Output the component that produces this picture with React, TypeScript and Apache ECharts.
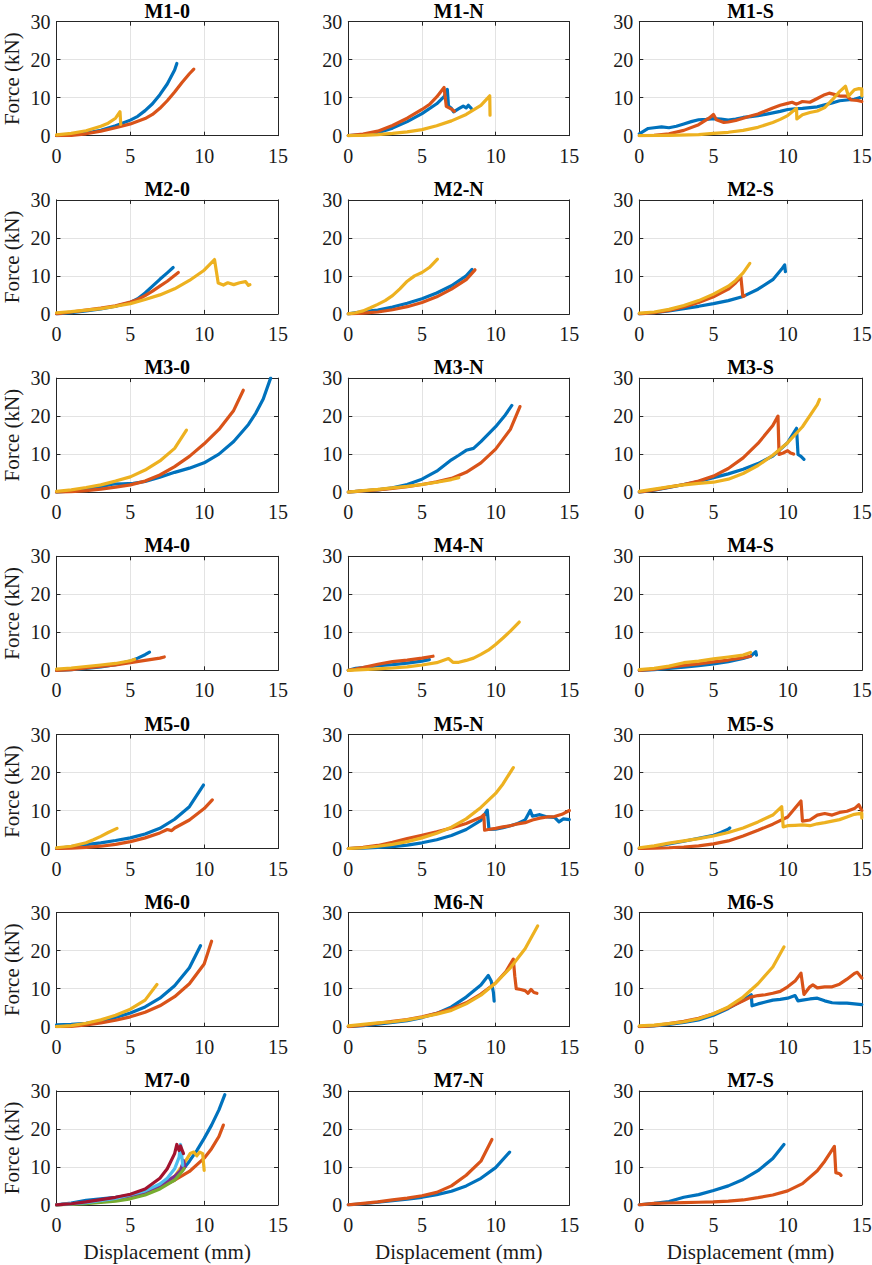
import React, { useEffect, useRef } from "react";
import * as echarts from "echarts";

type Pt = [number, number];

// ---- Data (displacement mm, force kN) ----
const M1_0_blue: Pt[] = [[0,0],[1,0.3],[2,0.7],[3,1.4],[4,2.6],[5,4.1],[5.5,5.1],[6,6.6],[6.5,8.4],[7,10.8],[7.5,13.6],[8,17.3],[8.15,19]];
const M1_0_orange: Pt[] = [[0,0],[1,0.1],[2,0.5],[3,1.2],[4,2.1],[5,3.1],[6,4.5],[6.5,5.6],[7,7.2],[7.5,9.2],[8,11.5],[8.5,14],[9,16.3],[9.3,17.5]];
const M1_0_yellow: Pt[] = [[0,0.2],[1,0.6],[2,1.3],[3,2.5],[3.5,3.3],[4,4.6],[4.3,6.3],[4.35,3.0]];

const M1_N_blue: Pt[] = [[0,0],[1,0.2],[2,0.8],[3,2.0],[4,3.7],[5,5.8],[6,8.4],[6.5,10.3],[6.72,12.2],[6.8,7.8],[7.0,7.2],[7.15,6.3],[7.5,7.1],[7.8,7.8],[8.0,7.3],[8.15,8.0],[8.35,7.2]];
const M1_N_orange: Pt[] = [[0,0],[1,0.4],[2,1.2],[3,2.7],[4,4.6],[5,6.9],[5.5,8.2],[6,10.2],[6.5,12.7],[6.65,7.7],[7.0,7.0],[7.2,6.4]];
const M1_N_yellow: Pt[] = [[0,0],[1,0.1],[2,0.3],[3,0.6],[4,1.0],[5,1.6],[6,2.6],[7,3.9],[8,5.6],[9,8.0],[9.6,10.5],[9.62,5.4]];

const M1_S_blue: Pt[] = [[0,0.5],[0.3,1.2],[0.6,1.9],[1,2.1],[1.5,2.3],[2,2.1],[2.5,2.5],[3,3.1],[3.5,3.7],[4,4.2],[4.5,4.3],[5,4.5],[5.5,4.4],[6,4.1],[6.5,4.4],[7,4.8],[7.5,5.0],[8,5.3],[8.5,5.6],[9,6.0],[9.5,6.4],[10,6.9],[10.5,7.1],[11,7.2],[11.5,7.4],[12,7.6],[12.5,8.1],[13,8.6],[13.5,9.2],[14,9.4],[14.5,9.6],[15,10.2]];
const M1_S_orange: Pt[] = [[0,0],[1,0.1],[2,0.5],[3,1.4],[4,2.9],[4.7,4.6],[5.0,5.6],[5.2,4.2],[5.7,3.5],[6,3.6],[6.5,4],[7,4.6],[7.5,5.2],[8,5.7],[8.5,6.5],[9,7.3],[9.5,8],[10,8.5],[10.3,8.8],[10.6,8.3],[11,9],[11.5,8.8],[12,9.8],[12.5,10.8],[12.8,11.2],[13.2,10.8],[13.6,10.4],[14,10.4],[14.3,9.4],[14.7,9.3],[15,9]];
const M1_S_yellow: Pt[] = [[0,0],[2,0.1],[4,0.3],[5,0.6],[6,0.9],[7,1.4],[8,2.2],[9,3.5],[9.5,4.3],[10,5.3],[10.6,7.2],[10.62,4.4],[11,5.5],[11.5,6.1],[12,6.5],[12.5,7.4],[13,9.4],[13.5,11.6],[13.9,13],[14.1,10.4],[14.5,12.1],[14.8,12.4],[15,12.3],[15,10.5]];

const M2_0_blue: Pt[] = [[0,0],[1,0.3],[2,0.8],[3,1.3],[4,2],[5,3],[5.5,4],[6,5.5],[6.5,7.3],[7,9.1],[7.5,10.8],[7.9,12.2]];
const M2_0_orange: Pt[] = [[0,0],[1,0.5],[2,1],[3,1.5],[4,2.1],[5,3.1],[5.5,3.8],[6,4.8],[6.5,6],[7,7.3],[7.5,8.6],[8.25,10.9]];
const M2_0_yellow: Pt[] = [[0,0.3],[1,0.6],[2,1],[3,1.4],[4,2],[5,2.7],[6,3.8],[7,5],[8,6.6],[9,8.8],[10,11.5],[10.7,14.3],[10.95,8.1],[11.3,7.6],[11.6,8.2],[12,7.7],[12.4,8.2],[12.8,8.5],[13.0,7.5],[13.1,7.7]];

const M2_N_blue: Pt[] = [[0,0],[1,0.6],[2,1],[3,1.8],[4,2.8],[5,4],[6,5.5],[7,7.4],[8,10],[8.4,11.7]];
const M2_N_orange: Pt[] = [[0,0],[1,0.2],[2,0.5],[3,1.1],[4,1.9],[5,3],[6,4.5],[7,6.5],[8,9],[8.6,11.6]];
const M2_N_yellow: Pt[] = [[0,0],[0.5,0.3],[1,0.8],[1.5,1.6],[2,2.5],[2.5,3.5],[3,4.8],[3.5,6.6],[4,8.6],[4.5,10],[5,10.9],[5.5,12.2],[6.05,14.4]];

const M2_S_blue: Pt[] = [[0,0],[1,0.3],[2,0.8],[3,1.4],[4,2],[5,2.7],[6,3.5],[7,4.6],[8,6.5],[9,9],[9.6,11.8],[9.8,12.9],[9.85,11.1]];
const M2_S_orange: Pt[] = [[0,0],[1,0.3],[2,0.9],[3,1.8],[4,3],[5,4.5],[6,6.5],[6.5,8.2],[6.85,9.7],[6.98,4.6],[7.1,4.8]];
const M2_S_yellow: Pt[] = [[0,0.2],[1,0.5],[2,1.2],[3,2.2],[4,3.5],[5,5.2],[6,7.3],[6.5,8.8],[7,10.8],[7.45,13.3]];

const M3_0_blue: Pt[] = [[0,0],[1,0.3],[2,0.8],[3,1.4],[3.8,2.1],[4.5,2.2],[5.2,2.3],[6,2.8],[7,3.9],[8,5.2],[9,6.3],[10,7.7],[11,10],[12,13.3],[13,17.8],[13.5,20.8],[14,24.5],[14.5,30]];
const M3_0_orange: Pt[] = [[0,0],[1,0.1],[2,0.4],[3,0.8],[4,1.3],[5,1.9],[6,2.9],[7,4.5],[8,6.7],[9,9.4],[10,12.7],[11,16.5],[12,21.5],[12.65,26.8]];
const M3_0_yellow: Pt[] = [[0,0.2],[1,0.6],[2,1.2],[3,1.9],[4,2.9],[5,4],[6,5.8],[7,8.2],[8,11.5],[8.8,16.3]];

const M3_N_blue: Pt[] = [[0,0],[1,0.3],[2,0.6],[3,1.1],[4,2],[5,3.4],[6,5.5],[7,8.5],[7.5,9.7],[8,11],[8.5,11.5],[9,13.3],[10,17.2],[10.6,20],[11.1,22.8]];
const M3_N_orange: Pt[] = [[0,0],[1,0.3],[2,0.6],[3,1],[4,1.4],[5,2],[6,2.7],[7,3.6],[8,5.2],[9,7.7],[10,11.3],[11,16.5],[11.65,22.5]];
const M3_N_yellow: Pt[] = [[0,0],[1,0.4],[2,0.7],[3,1.1],[4,1.5],[5,2],[6,2.6],[7,3.3],[7.5,3.8]];

const M3_S_blue: Pt[] = [[0,0],[1,0.5],[2,1.2],[3,2],[4,2.8],[5,3.8],[6,4.8],[7,6],[8,7.5],[9,9.5],[10,13],[10.6,16.8],[10.7,9.9],[10.9,9.4],[11.1,8.6]];
const M3_S_orange: Pt[] = [[0,0],[1,0.6],[2,1.3],[3,2],[4,2.9],[5,4.2],[6,6.2],[7,9],[8,12.8],[9,17.5],[9.35,20],[9.42,9.9],[9.7,10.3],[10,10.9],[10.2,10.3],[10.4,10]];
const M3_S_yellow: Pt[] = [[0,0.2],[1,0.8],[2,1.4],[3,1.9],[4,2.3],[5,2.6],[6,3.4],[7,4.9],[8,7],[9,9.7],[10,13],[11,17.2],[12,23],[12.15,24.4]];

const M4_0_blue: Pt[] = [[0,0],[1,0.2],[2,0.5],[3,0.9],[4,1.5],[5,2.4],[5.5,3.2],[6,4.1],[6.3,4.8]];
const M4_0_orange: Pt[] = [[0,0],[1,0.2],[2,0.6],[3,1],[4,1.4],[5,2],[6,2.6],[7,3.2],[7.3,3.5]];
const M4_0_yellow: Pt[] = [[0,0.3],[1,0.6],[2,1],[3,1.4],[4,1.8],[5,2.5],[5.3,2.9]];

const M4_N_blue: Pt[] = [[0,0],[0.5,0.5],[1,0.7],[2,1.2],[3,1.5],[4,1.9],[5,2.4],[5.5,2.8]];
const M4_N_orange: Pt[] = [[0,0],[0.5,0.3],[1,0.7],[2,1.6],[3,2.3],[4,2.7],[5,3.2],[5.75,3.7]];
const M4_N_yellow: Pt[] = [[0,0],[1,0.2],[2,0.4],[3,0.6],[4,0.9],[5,1.4],[6,2],[6.8,3.1],[7.1,2.1],[7.5,2.1],[8,2.6],[8.5,3.2],[9,4.2],[9.5,5.3],[10,6.8],[10.5,8.5],[11,10.3],[11.6,12.7]];

const M4_S_blue: Pt[] = [[0,0],[1,0.2],[2,0.5],[3,0.8],[4,1.2],[5,1.7],[6,2.3],[7,3.1],[7.5,3.7],[7.85,4.9],[7.9,4.0]];
const M4_S_orange: Pt[] = [[0,0],[1,0.3],[2,0.8],[3,1.3],[4,1.7],[5,2.2],[6,2.7],[7,3.3],[7.5,3.7]];
const M4_S_yellow: Pt[] = [[0,0.2],[1,0.5],[2,1.1],[3,2],[4,2.4],[5,3],[6,3.5],[7,4],[7.5,4.7]];

const M5_0_blue: Pt[] = [[0,0],[1,0.5],[2,1],[3,1.5],[4,2.1],[5,2.8],[6,3.8],[7,5.3],[8,7.7],[9,11],[9.95,16.7]];
const M5_0_orange: Pt[] = [[0,0],[1,0.1],[2,0.3],[3,0.6],[4,1.1],[5,1.8],[6,2.8],[7,4.1],[7.5,5],[7.8,4.7],[8,5.4],[9,7.5],[10,10.5],[10.55,12.8]];
const M5_0_yellow: Pt[] = [[0,0.2],[1,0.6],[2,1.5],[2.5,2.3],[3,3.2],[3.5,4.2],[4.1,5.3]];

const M5_N_blue: Pt[] = [[0,0],[1,0.1],[2,0.3],[3,0.5],[4,0.9],[5,1.5],[6,2.3],[7,3.4],[8,5],[9,7.4],[9.43,10.1],[9.55,5],[10,5.1],[10.5,5.5],[11,6],[11.5,6.6],[12,7.5],[12.35,10],[12.5,8.5],[13,8.9],[13.5,8.3],[14,8.2],[14.3,7],[14.6,7.8],[15,7.6]];
const M5_N_orange: Pt[] = [[0,0],[1,0.3],[2,0.8],[3,1.6],[4,2.6],[5,3.5],[6,4.4],[7,5.4],[8,6.6],[9,8.2],[9.2,8.9],[9.25,4.8],[9.5,5],[10,5.3],[10.5,5.7],[11,6],[11.5,6.5],[12,6.8],[12.5,7.5],[13,8],[13.5,8.3],[14,8.4],[14.5,9],[15,10]];
const M5_N_yellow: Pt[] = [[0,0],[1,0.2],[2,0.6],[3,1.1],[4,1.8],[5,2.8],[6,4],[7,5.6],[8,7.8],[9,10.8],[10,14.5],[10.5,17],[11.2,21.3]];

const M5_S_blue: Pt[] = [[0,0],[1,0.5],[2,1.2],[3,1.9],[4,2.7],[5,3.5],[5.5,4.2],[6,5.1],[6.1,5.4]];
const M5_S_orange: Pt[] = [[0,0],[1,0.1],[2,0.2],[3,0.4],[4,0.7],[5,1.2],[6,2],[7,3.3],[8,4.8],[9,6.4],[10,8.3],[10.9,12.5],[11,7.2],[11.5,7.5],[12,8.8],[12.5,9.2],[13,8.8],[13.5,9.5],[14,9.8],[14.5,10.5],[14.8,11.5],[15,10]];
const M5_S_yellow: Pt[] = [[0,0.2],[1,0.7],[2,1.4],[3,2],[4,2.6],[5,3.3],[6,4.2],[7,5.4],[8,7],[9,8.8],[9.6,11],[9.7,5.7],[10,6],[10.5,6.1],[11,6.2],[11.5,6],[12,6.5],[12.5,6.8],[13,7.2],[13.5,7.6],[14,8.3],[14.5,9],[15,9.3],[15,8]];

const M6_0_blue: Pt[] = [[0,0.5],[1,0.6],[2,0.9],[3,1.5],[4,2.4],[5,3.6],[6,5.2],[7,7.5],[8,10.8],[9,15.5],[9.75,21.3]];
const M6_0_orange: Pt[] = [[0,0],[1,0.1],[2,0.5],[3,1],[4,1.7],[5,2.6],[6,3.8],[7,5.5],[8,7.9],[9,11.3],[10,16.5],[10.5,22.5]];
const M6_0_yellow: Pt[] = [[0,0],[1,0.3],[2,0.9],[3,1.8],[4,3],[5,4.6],[6,7],[6.8,11.1]];

const M6_N_blue: Pt[] = [[0,0],[1,0.3],[2,0.7],[3,1.1],[4,1.6],[5,2.4],[6,3.5],[7,5.2],[8,7.8],[9,11],[9.5,13.5],[9.7,12],[9.85,9],[9.9,6.7]];
const M6_N_orange: Pt[] = [[0,0],[1,0.4],[2,0.9],[3,1.4],[4,1.9],[5,2.6],[6,3.5],[7,4.7],[8,6.3],[9,8.6],[10,11.5],[10.7,14.5],[11.2,17.8],[11.3,13.3],[11.4,10],[11.7,9.8],[12,9.5],[12.2,8.8],[12.4,9.8],[12.6,9],[12.8,8.8]];
const M6_N_yellow: Pt[] = [[0,0.2],[1,0.6],[2,1],[3,1.3],[4,1.8],[5,2.5],[6,3.3],[7,4.3],[8,6],[9,8.3],[10,11.5],[11,15.5],[12,20.5],[12.85,26.5]];

const M6_S_blue: Pt[] = [[0,0],[1,0.2],[2,0.6],[3,1.1],[4,1.8],[5,3],[6,4.8],[7,7],[7.55,8.4],[7.6,5.5],[8,6],[8.5,6.5],[9,7],[9.5,7.2],[10,7.5],[10.5,8.2],[10.7,6.8],[11,7],[11.5,7.3],[12,7.5],[12.5,6.8],[13,6.3],[13.5,6.2],[14,6.2],[14.5,6],[15,5.8]];
const M6_S_orange: Pt[] = [[0,0],[1,0.3],[2,0.8],[3,1.4],[4,2.2],[5,3.4],[6,5],[7,6.8],[7.5,7.8],[8,8.2],[8.5,8.4],[9,8.8],[9.5,9.3],[10,10.5],[10.5,12],[10.9,14.1],[11.1,8.5],[11.5,10.5],[11.7,11],[12,10.2],[12.5,10.5],[13,10.5],[13.5,11.2],[14,12.5],[14.5,14],[14.7,14.3],[15,12.8]];
const M6_S_yellow: Pt[] = [[0,0.2],[1,0.4],[2,0.8],[3,1.3],[4,2.1],[5,3.4],[6,5.2],[7,7.8],[8,11.3],[9,15.7],[9.75,21]];

const M7_0_blue: Pt[] = [[0,0],[1,0.5],[2,1.2],[3,1.6],[4,2],[5,2.6],[6,3.4],[7,4.7],[8,6.8],[8.5,9],[9,11.5],[9.5,14.3],[10,17.5],[10.5,21],[11,25],[11.4,29]];
const M7_0_orange: Pt[] = [[0,0],[1,0.3],[2,0.7],[3,1.2],[4,1.8],[5,2.5],[6,3.5],[7,4.8],[8,6.5],[9,8.8],[10,12.3],[10.5,14.8],[11,18],[11.3,21]];
const M7_0_yellow: Pt[] = [[0,0],[2,0.5],[4,1.5],[6,3.3],[7,4.8],[8,7.5],[8.7,11.3],[9.05,13.5],[9.3,13.9],[9.5,12.9],[9.7,13.9],[9.9,13.5],[10,9.1]];
const M7_0_purple: Pt[] = [[0,0],[2,0.5],[4,1.5],[6,3.3],[7,5],[8,7.5],[8.4,9],[8.6,11.7],[8.7,10]];
const M7_0_green: Pt[] = [[0,0],[2,0.3],[4,1],[5,1.6],[6,2.6],[7,4.2],[8,6.5],[8.5,8.8],[8.65,9.6]];
const M7_0_cyan: Pt[] = [[0,0],[2,0.6],[4,1.7],[6,3.7],[7,5.5],[7.5,7],[8,9.5],[8.3,12.5],[8.4,15.9],[8.55,10.4]];
const M7_0_red: Pt[] = [[0,0],[1,0.3],[2,0.8],[3,1.4],[4,2],[5,2.8],[6,4.2],[7,7],[7.5,9.5],[8,13.5],[8.15,15.9],[8.3,14.3],[8.4,15.5],[8.5,14.5],[8.6,13.5]];

const M7_N_blue: Pt[] = [[0,0],[1,0.3],[2,0.7],[3,1.1],[4,1.5],[5,2],[6,2.7],[7,3.6],[8,5],[9,7],[10,9.8],[10.95,13.9]];
const M7_N_orange: Pt[] = [[0,0],[1,0.4],[2,0.8],[3,1.3],[4,1.8],[5,2.4],[6,3.3],[7,5],[8,7.8],[9,11.5],[9.75,17.2]];

const M7_S_blue: Pt[] = [[0,0],[1,0.4],[2,0.9],[3,2],[4,2.7],[5,3.8],[6,5],[7,6.7],[8,9],[9,12.2],[9.75,15.9]];
const M7_S_orange: Pt[] = [[0,0],[1,0.4],[2,0.5],[3,0.6],[4,0.7],[5,0.8],[6,1],[7,1.3],[8,1.9],[9,2.6],[10,3.7],[11,5.6],[12,9],[12.5,11.5],[13,14.5],[13.15,15.4],[13.25,8.5],[13.5,8.2],[13.6,7.8]];

const TITLES = ["M1-0","M1-N","M1-S","M2-0","M2-N","M2-S","M3-0","M3-N","M3-S","M4-0","M4-N","M4-S","M5-0","M5-N","M5-S","M6-0","M6-N","M6-S","M7-0","M7-N","M7-S"];
const X_TICKS = [0, 5, 10, 15];
const Y_TICKS = [0, 10, 20, 30];
const X_LABEL = "Displacement (mm)";
const Y_LABEL = "Force (kN)";

const COLORS: Record<string, string> = {
  blue: "#0072BD",
  orange: "#D95319",
  yellow: "#EDB120",
  purple: "#7E2F8E",
  green: "#77AC30",
  cyan: "#4DBEEE",
  red: "#A2142F",
};

const PANEL_SERIES: [string, Pt[]][][] = [
  [["blue", M1_0_blue], ["orange", M1_0_orange], ["yellow", M1_0_yellow]],
  [["blue", M1_N_blue], ["orange", M1_N_orange], ["yellow", M1_N_yellow]],
  [["blue", M1_S_blue], ["orange", M1_S_orange], ["yellow", M1_S_yellow]],
  [["blue", M2_0_blue], ["orange", M2_0_orange], ["yellow", M2_0_yellow]],
  [["blue", M2_N_blue], ["orange", M2_N_orange], ["yellow", M2_N_yellow]],
  [["blue", M2_S_blue], ["orange", M2_S_orange], ["yellow", M2_S_yellow]],
  [["blue", M3_0_blue], ["orange", M3_0_orange], ["yellow", M3_0_yellow]],
  [["blue", M3_N_blue], ["orange", M3_N_orange], ["yellow", M3_N_yellow]],
  [["blue", M3_S_blue], ["orange", M3_S_orange], ["yellow", M3_S_yellow]],
  [["blue", M4_0_blue], ["orange", M4_0_orange], ["yellow", M4_0_yellow]],
  [["blue", M4_N_blue], ["orange", M4_N_orange], ["yellow", M4_N_yellow]],
  [["blue", M4_S_blue], ["orange", M4_S_orange], ["yellow", M4_S_yellow]],
  [["blue", M5_0_blue], ["orange", M5_0_orange], ["yellow", M5_0_yellow]],
  [["blue", M5_N_blue], ["orange", M5_N_orange], ["yellow", M5_N_yellow]],
  [["blue", M5_S_blue], ["orange", M5_S_orange], ["yellow", M5_S_yellow]],
  [["blue", M6_0_blue], ["orange", M6_0_orange], ["yellow", M6_0_yellow]],
  [["blue", M6_N_blue], ["orange", M6_N_orange], ["yellow", M6_N_yellow]],
  [["blue", M6_S_blue], ["orange", M6_S_orange], ["yellow", M6_S_yellow]],
  [["blue", M7_0_blue], ["orange", M7_0_orange], ["yellow", M7_0_yellow], ["purple", M7_0_purple], ["green", M7_0_green], ["cyan", M7_0_cyan], ["red", M7_0_red]],
  [["blue", M7_N_blue], ["orange", M7_N_orange]],
  [["blue", M7_S_blue], ["orange", M7_S_orange]],
];

// ---- Layout ----
const W = 872;
const H = 1265;
const COL_LEFT = [56.5, 348.3, 639.3];
const COL_WIDTH = [221.5, 221, 222.5];
const ROW_TOP0 = 21.7;
const ROW_STEP = 178.2;
const PLOT_H = 114;
const FONT_FAMILY = "Liberation Serif, Times New Roman, serif";
const AX = "#262626";
const GRID = "#e3e3e3";

function buildOption() {
  const grid: any[] = [];
  const xAxis: any[] = [];
  const yAxis: any[] = [];
  const series: any[] = [];
  const graphic: any[] = [];

  TITLES.forEach((title, i) => {
    const row = Math.floor(i / 3);
    const col = i % 3;
    const left = COL_LEFT[col];
    const width = COL_WIDTH[col];
    const top = ROW_TOP0 + ROW_STEP * row;
    grid.push({ left, top, width, height: PLOT_H, containLabel: false, outerBoundsMode: "none", show: false });

    const gx = i;
    xAxis.push({
      type: "value", gridIndex: gx, position: "bottom", min: 0, max: 15, interval: 5,
      axisLine: { show: true, onZero: false, lineStyle: { color: AX, width: 1 } },
      axisTick: { show: true, inside: true, length: 4, lineStyle: { color: AX } },
      axisLabel: { show: true, color: "#1a1a1a", fontFamily: FONT_FAMILY, fontSize: 20, margin: 10,
        formatter: (v: number) => (X_TICKS.includes(v) ? String(v) : "") },
      splitLine: { show: true, lineStyle: { color: GRID, width: 1 } },
    });
    xAxis.push({
      type: "value", gridIndex: gx, position: "top", min: 0, max: 15, interval: 5,
      axisLine: { show: true, onZero: false, lineStyle: { color: AX, width: 1 } },
      axisTick: { show: true, inside: true, length: 4, lineStyle: { color: AX } },
      axisLabel: { show: false },
      splitLine: { show: false },
    });
    yAxis.push({
      type: "value", gridIndex: gx, position: "left", min: 0, max: 30, interval: 10,
      axisLine: { show: true, onZero: false, lineStyle: { color: AX, width: 1 } },
      axisTick: { show: true, inside: true, length: 4, lineStyle: { color: AX } },
      axisLabel: { show: true, color: "#1a1a1a", fontFamily: FONT_FAMILY, fontSize: 20, margin: 6,
        formatter: (v: number) => (Y_TICKS.includes(v) ? String(v) : "") },
      splitLine: { show: true, lineStyle: { color: GRID, width: 1 } },
    });
    yAxis.push({
      type: "value", gridIndex: gx, position: "right", min: 0, max: 30, interval: 10,
      axisLine: { show: true, onZero: false, lineStyle: { color: AX, width: 1 } },
      axisTick: { show: true, inside: true, length: 4, lineStyle: { color: AX } },
      axisLabel: { show: false },
      splitLine: { show: false },
    });

    PANEL_SERIES[i].forEach(([c, data]) => {
      series.push({
        type: "line",
        xAxisIndex: gx * 2,
        yAxisIndex: gx * 2,
        data,
        showSymbol: false,
        symbol: "none",
        smooth: false,
        lineStyle: { color: COLORS[c], width: 3.2, cap: "round", join: "round" },
        itemStyle: { color: COLORS[c] },
        clip: true,
        z: 3,
      });
    });

    graphic.push({
      type: "text",
      x: left + width / 2,
      y: top - 11,
      style: {
        text: title, fill: "#000", fontFamily: FONT_FAMILY, fontSize: 20, fontWeight: "bold",
        textAlign: "center", textVerticalAlign: "middle",
      },
    });
    if (col === 0) {
      graphic.push({
        type: "text",
        x: 12,
        y: top + PLOT_H / 2,
        rotation: Math.PI / 2,
        style: {
          text: Y_LABEL, fill: "#1a1a1a", fontFamily: FONT_FAMILY, fontSize: 21,
          textAlign: "center", textVerticalAlign: "middle",
        },
      });
    }
    if (row === 6) {
      graphic.push({
        type: "text",
        x: left + width / 2,
        y: top + PLOT_H + 47,
        style: {
          text: X_LABEL, fill: "#1a1a1a", fontFamily: FONT_FAMILY, fontSize: 21,
          textAlign: "center", textVerticalAlign: "middle",
        },
      });
    }
  });

  return {
    animation: false,
    backgroundColor: "#ffffff",
    textStyle: { fontFamily: FONT_FAMILY },
    grid,
    xAxis,
    yAxis,
    series,
    graphic,
  };
}

export default function App() {
  const ref = useRef<HTMLDivElement | null>(null);
  useEffect(() => {
    if (!ref.current) return;
    const chart = echarts.init(ref.current, undefined, { renderer: "svg", width: W, height: H });
    chart.setOption(buildOption() as any);
    return () => chart.dispose();
  }, []);
  return (
    <div
      ref={ref}
      style={{ position: "absolute", left: 0, top: 0, width: W, height: H, background: "#fff" }}
    />
  );
}
